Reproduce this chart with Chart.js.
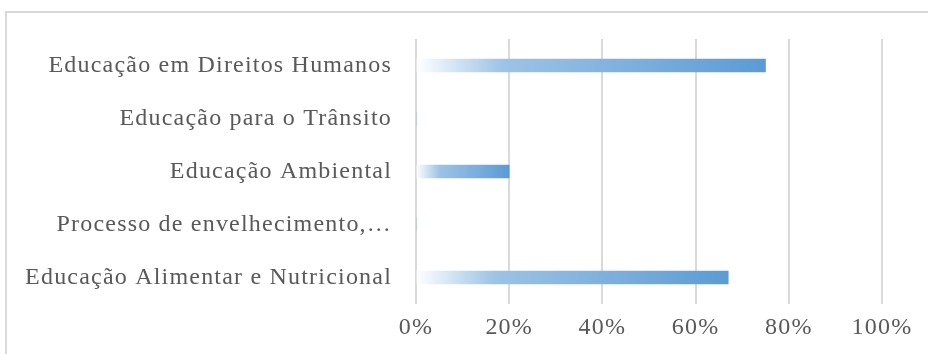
<!DOCTYPE html>
<html><head><meta charset="utf-8">
<script src="https://cdn.jsdelivr.net/npm/chart.js@4/dist/chart.umd.min.js"></script>
<style>
html,body{margin:0;padding:0;background:#fff;}
#wrap{position:relative;width:928px;height:354px;overflow:hidden;}
#frame{position:absolute;left:5px;top:11px;width:1000px;height:400px;border-top:2px solid #d9d9d9;border-left:2px solid #d9d9d9;}
canvas{position:absolute;left:0;top:0;}
</style></head>
<body>
<div id="wrap"><div id="frame"></div><canvas id="c" width="928" height="354"></canvas></div>
<script>
const categories = [
  "Educação em Direitos Humanos",
  "Educação para o Trânsito",
  "Educação Ambiental",
  "Processo de envelhecimento,…",
  "Educação Alimentar e Nutricional"
];
const percentValues = [75, 0, 20, 0, 67];
const tickValues = [0, 20, 40, 60, 80, 100];

const LS = '1.2px';
const letterSpacingPlugin = {
  id: 'ls',
  beforeInit(chart){ chart.ctx.letterSpacing = LS; },
  beforeUpdate(chart){ chart.ctx.letterSpacing = LS; },
  beforeDraw(chart){ chart.ctx.letterSpacing = LS; }
};

function barGradient(ctx){
  const chart = ctx.chart;
  if (!chart.chartArea || !chart.scales.x) return '#5b9bd5';
  const xs = chart.scales.x;
  const v = ctx.raw || 0;
  const x0 = xs.getPixelForValue(0);
  let x1 = xs.getPixelForValue(v);
  if (x1 - x0 < 1) x1 = x0 + 1;
  const g = chart.ctx.createLinearGradient(x0, 0, x1, 0);
  g.addColorStop(0, '#ffffff');
  g.addColorStop(0.25, '#9dc3e6');
  g.addColorStop(1, '#5b9bd5');
  return g;
}

const FONT = '"Liberation Serif", "Times New Roman", serif';

new Chart(document.getElementById('c'), {
  type: 'bar',
  data: {
    labels: categories,
    datasets: [{
      data: percentValues,
      backgroundColor: barGradient,
      borderWidth: 0,
      barThickness: 13
    }]
  },
  plugins: [letterSpacingPlugin],
  options: {
    indexAxis: 'y',
    responsive: false,
    animation: false,
    devicePixelRatio: 1,
    layout: { padding: { left: 0, right: 46, top: 39, bottom: 0 } },
    plugins: { legend: { display: false }, tooltip: { enabled: false } },
    scales: {
      x: {
        min: 0, max: 100,
        afterBuildTicks(scale){ scale.ticks = tickValues.map(v => ({value: v})); },
        afterFit(scale){ scale.height = 50; },
        grid: { color: '#d9d9d9', lineWidth: 2, drawTicks: false },
        border: { display: false },
        ticks: {
          padding: 9,
          color: '#595959',
          font: { family: FONT, size: 24 },
          callback: v => v + '%'
        }
      },
      y: {
        afterFit(scale){ scale.width = 416; },
        grid: { display: false },
        border: { display: false },
        ticks: {
          padding: 16,
          color: '#595959',
          font: { family: FONT, size: 24 }
        }
      }
    }
  }
});
</script>
</body></html>
